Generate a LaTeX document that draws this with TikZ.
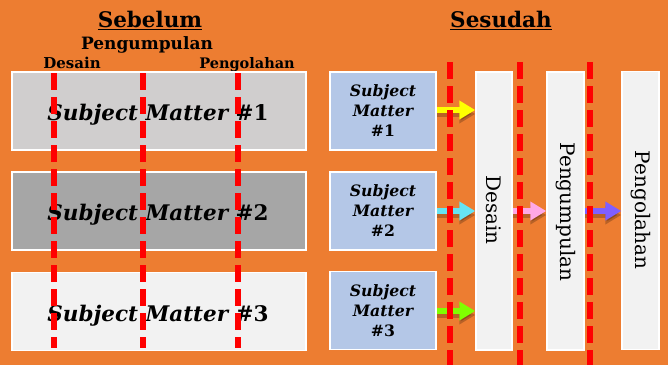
\documentclass[tikz,border=0pt]{standalone}
\usepackage{fontspec}
\setmainfont{DejaVu Serif}
\usetikzlibrary{arrows.meta}
\definecolor{bg}{HTML}{ED7D31}
\definecolor{gA}{HTML}{D0CECE}
\definecolor{gB}{HTML}{A6A6A6}
\definecolor{gC}{HTML}{F2F2F2}
\definecolor{blu}{HTML}{B4C7E7}
\definecolor{ayel}{HTML}{FFFF00}
\definecolor{acya}{HTML}{66E3F2}
\definecolor{agrn}{HTML}{80FF00}
\definecolor{apnk}{HTML}{FFA8E6}
\definecolor{apur}{HTML}{7F5FFF}
\tikzset{
  sbox/.style={draw=white, line width=1.5pt, inner sep=0pt},
  bigtxt/.style={font=\fontsize{21.5}{25}\selectfont\bfseries\itshape},
  smalltxt/.style={font=\fontsize{15.7}{20}\selectfont\bfseries\itshape, align=center},
  tallbox/.style={sbox, fill=gC, minimum width=36pt, minimum height=278pt},
  talltxt/.style={rotate=-90, font=\fontsize{20}{24}\selectfont},
  reddash/.style={draw=red, line width=5.5pt, dash pattern=on 17pt off 7pt},
  fat/.style={line width=6pt, -{Triangle[length=16pt,width=18pt]}},
  fatshadow/.style={fat, draw=black, opacity=0.22},
  ttl/.style={font=\fontsize{21.5}{24}\selectfont\bfseries, anchor=base},
  sub/.style={font=\fontsize{#1}{#1}\selectfont\bfseries, anchor=base}
}
\begin{document}
\begin{tikzpicture}[x=1pt,y=-1pt]
\fill[bg] (0,0) rectangle (668,365);
\useasboundingbox (0,0) rectangle (668,365);
% titles
\node[ttl] (t1) at (150,27) {\underline{Sebelum}};
\node[ttl] (t2) at (501,27) {\underline{Sesudah}};
\node[sub=17] (lp) at (147,49) {Pengumpulan};
\node[sub=15] (ld) at (72,68) {Desain};
\node[sub=14.5] (lo) at (247,68) {Pengolahan};
% left boxes
\node[sbox, fill=gA, minimum width=294pt, minimum height=78pt] (a1) at (159,111) {};
\node[sbox, fill=gB, minimum width=294pt, minimum height=78pt] (a2) at (159,211) {};
\node[sbox, fill=gC, minimum width=294pt, minimum height=78pt] (a3) at (159,311.5) {};
\node[bigtxt, anchor=base] (a1t) at (158,120) {Subject Matter \upshape\#1};
\node[bigtxt, anchor=base] (a2t) at (158,220) {Subject Matter \upshape\#2};
\node[bigtxt, anchor=base] (a3t) at (158,321) {Subject Matter \upshape\#3};
% right blue boxes
\node[sbox, fill=blu, minimum width=106pt, minimum height=78pt, smalltxt] (b1) at (383,111) {Subject\\Matter\\\upshape\#1};
\node[sbox, fill=blu, minimum width=106pt, minimum height=78pt, smalltxt] (b2) at (383,211) {Subject\\Matter\\\upshape\#2};
\node[sbox, fill=blu, minimum width=106pt, minimum height=78pt, smalltxt] (b3) at (383,310.5) {Subject\\Matter\\\upshape\#3};
% tall boxes
\node[tallbox] (d) at (494,211) {};
\node[tallbox, minimum width=37pt] (p) at (565.5,211) {};
\node[tallbox, minimum width=37pt] (o) at (640.5,210.5) {};
\node[talltxt] (dt) at (494,210) {Desain};
\node[talltxt] (pt) at (565.5,212) {Pengumpulan};
\node[talltxt] (ot) at (640.5,210) {Pengolahan};
% arrow shadows
\begin{scope}[yshift=-4pt]
\draw[fatshadow] (b1.east |- 0,110) -- (d.west |- 0,110);
\draw[fatshadow] (b2.east |- 0,211) -- (d.west |- 0,211);
\draw[fatshadow] (b3.east |- 0,311) -- (d.west |- 0,311);
\draw[fatshadow] (d.east |- 0,211) -- (p.west |- 0,211);
\draw[fatshadow] (p.east |- 0,211) -- (o.west |- 0,211);
\end{scope}
% arrows
\draw[fat, draw=ayel, fill=ayel] (b1.east |- 0,110) -- (d.west |- 0,110);
\draw[fat, draw=acya, fill=acya] (b2.east |- 0,211) -- (d.west |- 0,211);
\draw[fat, draw=agrn, fill=agrn] (b3.east |- 0,311) -- (d.west |- 0,311);
\draw[fat, draw=apnk, fill=apnk] (d.east |- 0,211) -- (p.west |- 0,211);
\draw[fat, draw=apur, fill=apur] (p.east |- 0,211) -- (o.west |- 0,211);
% red dashed lines
\coordinate (l1s) at (54,73);  \coordinate (l1e) at (54,348);
\coordinate (l2s) at (143,73); \coordinate (l2e) at (143,348);
\coordinate (l3s) at (238,73); \coordinate (l3e) at (238,348);
\coordinate (r1s) at (450,62); \coordinate (r1e) at (450,365);
\coordinate (r2s) at (520,62); \coordinate (r2e) at (520,365);
\coordinate (r3s) at (590,62); \coordinate (r3e) at (590,365);
\draw[reddash] (l1s) -- (l1e);
\draw[reddash] (l2s) -- (l2e);
\draw[reddash] (l3s) -- (l3e);
\draw[reddash] (r1s) -- (r1e);
\draw[reddash] (r2s) -- (r2e);
\draw[reddash] (r3s) -- (r3e);
\end{tikzpicture}
\end{document}
